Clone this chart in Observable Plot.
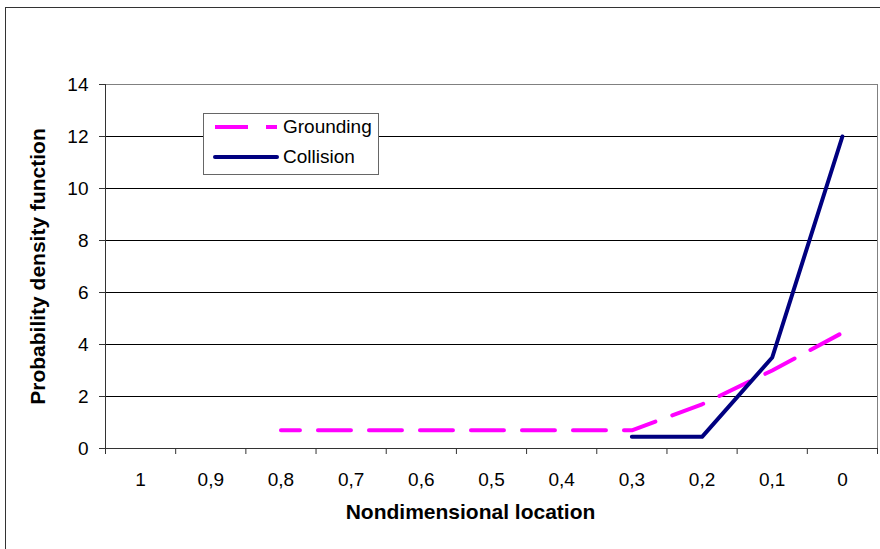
<!DOCTYPE html>
<html><head><meta charset="utf-8">
<script src="https://cdn.jsdelivr.net/npm/d3@7"></script>
<script src="https://cdn.jsdelivr.net/npm/@observablehq/plot@0.6"></script>
<style>
body{margin:0;background:#fff;font-family:"Liberation Sans",Arial,sans-serif;}
#wrap{position:relative;width:880px;height:549px;overflow:hidden;background:#fff;}
#border{position:absolute;left:5px;top:7px;width:900px;height:600px;border-left:1px solid #333;border-top:1px solid #333;}
#chart{position:absolute;left:0;top:0;}
#legend{position:absolute;left:203px;top:113px;width:174px;height:60px;border:1px solid #666;background:#fff;font-size:19px;color:#000;}
.row{position:absolute;left:0;width:174px;height:24px;}
.row svg{position:absolute;left:9px;top:7px;}
.row span{position:absolute;left:79px;top:0;line-height:24px;white-space:nowrap;}
</style></head>
<body><div id="wrap"><div id="border"></div><div id="chart"></div><div id="legend"></div></div>
<script>
const categories = ["1","0,9","0,8","0,7","0,6","0,5","0,4","0,3","0,2","0,1","0"];
const grounding = [null,null,0.7,0.7,0.7,0.7,0.7,0.7,1.7,3.0,4.45];
const collision = [null,null,null,null,null,null,null,0.45,0.45,3.5,12];
const yTicks = [0,2,4,6,8,10,12,14];
const seriesNames = ["Grounding","Collision"];
const seriesColors = ["#FF00FF","#000080"];
const seriesDash = ["33,18",null];

const data = categories.map((c,i)=>({x:i+0.5, cat:c, grounding:grounding[i], collision:collision[i]}));
const font = "Liberation Sans, Arial, sans-serif";

const chart = Plot.plot({
  width: 880, height: 549,
  marginLeft: 105, marginRight: 3, marginTop: 84, marginBottom: 101,
  style: {fontFamily: font, fontSize: "19px", color: "#000", background: "transparent"},
  x: {type: "linear", domain: [0, categories.length], label: null},
  y: {domain: [0, 14], label: null},
  marks: [
    Plot.frame({stroke: "#808080"}),
    Plot.gridY(yTicks.filter(t => t < 14), {stroke: "#000", strokeOpacity: 1}),
    Plot.ruleX([0], {stroke: "#333"}),
    Plot.ruleY([0], {stroke: "#333"}),
    Plot.axisY(yTicks, {tickSize: 6, tickPadding: 11, label: null, stroke: "#333", fontSize: 19}),
    Plot.axisX(d3.range(categories.length + 1), {tickSize: 6, tickFormat: () => "", label: null, stroke: "#333"}),
    Plot.axisX(data.map(d => d.x), {tickSize: 0, tickPadding: 24, tickFormat: d => categories[Math.floor(d)], label: null, fontSize: 19}),
    Plot.line(data, {x: "x", y: "grounding", stroke: seriesColors[0], strokeWidth: 4, strokeDasharray: seriesDash[0], strokeDashoffset: 14}),
    Plot.line(data, {x: "x", y: "collision", stroke: seriesColors[1], strokeWidth: 4, strokeLinejoin: "round"}),
    Plot.text(["Probability density function"], {frameAnchor: "left", textAnchor: "middle", rotate: -90, dx: -67, fontWeight: "bold", fontSize: 21}),
    Plot.text(["Nondimensional location"], {frameAnchor: "bottom", dy: 70, dx: -21, fontWeight: "bold", fontSize: 21})
  ]
});
document.getElementById("chart").appendChild(chart);

const legend = d3.select("#legend");
seriesNames.forEach((name, i) => {
  const row = legend.append("div").attr("class", "row").style("top", (1 + i * 30) + "px");
  const svg = row.append("svg").attr("width", 68).attr("height", 10);
  svg.append("line").attr("x1", 2).attr("x2", 64).attr("y1", 5).attr("y2", 5)
    .attr("stroke", seriesColors[i]).attr("stroke-width", 4)
    .attr("stroke-dasharray", seriesDash[i])
    .attr("stroke-linecap", seriesDash[i] ? "butt" : "round");
  row.append("span").text(name);
});
</script>
</body></html>
